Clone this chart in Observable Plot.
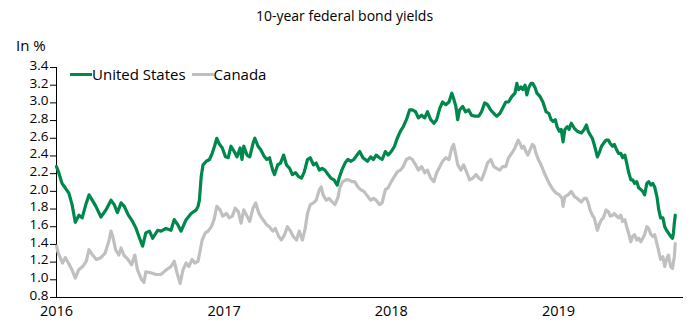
<!DOCTYPE html>
<html><head><meta charset="utf-8">
<script src="https://cdn.jsdelivr.net/npm/d3@7"></script>
<script src="https://cdn.jsdelivr.net/npm/@observablehq/plot@0.6"></script>
<style>
body{margin:0;background:#fff;font-family:"Open Sans",sans-serif;color:#000;}
#wrap{position:relative;width:689px;height:320px;overflow:hidden;}
#title{position:absolute;top:6px;left:0;width:689px;text-align:center;font-size:14px;}
#unit{position:absolute;top:35px;left:16px;font-size:15px;}
#legend{position:absolute;top:64px;left:70px;font-size:15px;display:flex;align-items:center;white-space:nowrap;}
#legend .sw{display:inline-block;width:22px;height:3px;}
#chart{position:absolute;top:0;left:0;}
</style></head><body>
<div id="wrap">
<div id="chart"></div>
<div id="title">10-year federal bond yields</div>
<div id="unit">In %</div>
<div id="legend"></div>
</div>
<script>
const seriesNames = ["United States", "Canada"];
const seriesColors = ["#00874b", "#c0c0c0"];
const yTicks = [0.8,1.0,1.2,1.4,1.6,1.8,2.0,2.2,2.4,2.6,2.8,3.0,3.2,3.4];
const xTicks = ["2016-01-01","2017-01-01","2018-01-01","2019-01-01"];
const xDomain = ["2016-01-01","2019-10-01"];

const usDates = ["2016-01-01","2016-01-06","2016-01-13","2016-01-20","2016-01-28","2016-02-04","2016-02-11","2016-02-19","2016-02-26","2016-03-05","2016-03-12","2016-03-19","2016-03-27","2016-04-07","2016-04-18","2016-04-29","2016-05-06","2016-05-13","2016-05-21","2016-05-28","2016-06-06","2016-06-15","2016-06-22","2016-06-29","2016-07-07","2016-07-14","2016-07-22","2016-07-29","2016-08-09","2016-08-16","2016-08-27","2016-09-07","2016-09-14","2016-09-22","2016-09-29","2016-10-10","2016-10-21","2016-11-01","2016-11-05","2016-11-08","2016-11-12","2016-11-16","2016-11-23","2016-11-30","2016-12-06","2016-12-11","2016-12-16","2016-12-21","2016-12-28",
"2017-01-04","2017-01-10","2017-01-16","2017-01-23","2017-01-29","2017-02-05","2017-02-09","2017-02-13","2017-02-20","2017-02-26","2017-03-05","2017-03-09","2017-03-16","2017-03-22","2017-03-29","2017-04-04","2017-04-10","2017-04-17","2017-04-21","2017-04-28","2017-05-04","2017-05-11","2017-05-17","2017-05-24","2017-05-30","2017-06-06","2017-06-12","2017-06-19","2017-06-25","2017-07-02","2017-07-08","2017-07-15","2017-07-21","2017-07-28","2017-08-03","2017-08-09","2017-08-16","2017-08-22","2017-08-29","2017-09-05","2017-09-09","2017-09-15","2017-09-22","2017-09-28","2017-10-05","2017-10-11","2017-10-18","2017-10-24","2017-10-31","2017-11-10","2017-11-17","2017-11-23","2017-11-29","2017-12-06","2017-12-12","2017-12-19","2017-12-25",
"2018-01-01","2018-01-08","2018-01-14","2018-01-21","2018-01-27","2018-02-03","2018-02-10","2018-02-16","2018-02-23","2018-03-01","2018-03-08","2018-03-15","2018-03-21","2018-03-28","2018-04-04","2018-04-10","2018-04-17","2018-04-23","2018-04-30","2018-05-07","2018-05-13","2018-05-17","2018-05-22","2018-05-26","2018-05-30","2018-06-06","2018-06-12","2018-06-19","2018-06-25","2018-07-02","2018-07-11","2018-07-17","2018-07-24","2018-07-30","2018-08-06","2018-08-13","2018-08-19","2018-08-26","2018-09-01","2018-09-08","2018-09-14","2018-09-21","2018-09-28","2018-10-02","2018-10-06","2018-10-11","2018-10-15","2018-10-20","2018-10-24","2018-10-28","2018-11-02","2018-11-06","2018-11-11","2018-11-15","2018-11-22","2018-11-28","2018-12-05","2018-12-11","2018-12-16","2018-12-20","2018-12-25","2018-12-29",
"2019-01-03","2019-01-07","2019-01-11","2019-01-15","2019-01-20","2019-01-24","2019-01-29","2019-02-05","2019-02-11","2019-02-20","2019-02-26","2019-03-03","2019-03-07","2019-03-11","2019-03-16","2019-03-20","2019-03-27","2019-04-01","2019-04-05","2019-04-09","2019-04-15","2019-04-20","2019-04-24","2019-04-29","2019-05-03","2019-05-08","2019-05-12","2019-05-17","2019-05-21","2019-05-26","2019-05-30","2019-06-03","2019-06-08","2019-06-12","2019-06-16","2019-06-21","2019-06-25","2019-06-30","2019-07-04","2019-07-08","2019-07-13","2019-07-17","2019-07-22","2019-07-26","2019-07-30","2019-08-04","2019-08-08","2019-08-12","2019-08-17","2019-08-21","2019-08-25","2019-08-29","2019-09-03","2019-09-07","2019-09-09","2019-09-11","2019-09-13"];
const usYield = [2.28,2.21,2.09,2.04,1.98,1.85,1.65,1.73,1.70,1.85,1.96,1.90,1.83,1.71,1.79,1.90,1.85,1.76,1.87,1.83,1.73,1.66,1.59,1.49,1.38,1.53,1.55,1.47,1.56,1.55,1.58,1.56,1.68,1.62,1.55,1.68,1.75,1.79,1.83,1.90,2.17,2.30,2.34,2.36,2.43,2.51,2.60,2.54,2.49,
2.39,2.38,2.51,2.45,2.39,2.49,2.36,2.51,2.41,2.39,2.54,2.60,2.51,2.47,2.40,2.36,2.38,2.24,2.19,2.30,2.32,2.41,2.30,2.26,2.19,2.21,2.17,2.15,2.22,2.36,2.38,2.30,2.32,2.24,2.26,2.24,2.19,2.15,2.13,2.07,2.15,2.24,2.32,2.36,2.34,2.36,2.41,2.45,2.38,2.34,2.39,2.36,2.41,2.38,2.36,2.45,2.41,
2.45,2.51,2.60,2.68,2.73,2.81,2.92,2.92,2.90,2.83,2.86,2.83,2.90,2.81,2.77,2.81,2.94,3.01,2.98,3.01,3.11,3.05,2.96,2.81,2.92,2.96,2.90,2.92,2.86,2.85,2.85,2.90,3.00,2.98,2.92,2.88,2.85,2.88,2.94,3.01,3.01,3.07,3.11,3.22,3.15,3.18,3.15,3.20,3.09,3.17,3.22,3.22,3.17,3.11,3.07,3.01,2.90,2.88,2.81,2.79,2.81,2.73,
2.68,2.70,2.56,2.70,2.73,2.70,2.77,2.71,2.68,2.66,2.70,2.75,2.68,2.64,2.60,2.53,2.39,2.45,2.51,2.54,2.58,2.58,2.54,2.51,2.53,2.47,2.43,2.43,2.38,2.41,2.32,2.22,2.13,2.13,2.09,2.11,2.04,2.02,2.00,1.96,2.09,2.11,2.07,2.09,2.05,1.94,1.79,1.70,1.70,1.60,1.56,1.53,1.49,1.47,1.53,1.64,1.73];

const caDates = ["2016-01-01","2016-01-05","2016-01-14","2016-01-20","2016-01-27","2016-02-04","2016-02-11","2016-02-18","2016-02-27","2016-03-06","2016-03-12","2016-03-20","2016-03-28","2016-04-07","2016-04-16","2016-04-25","2016-04-29","2016-05-03","2016-05-09","2016-05-16","2016-05-21","2016-05-27","2016-06-05","2016-06-13","2016-06-20","2016-06-26","2016-07-05","2016-07-10","2016-07-14","2016-07-25","2016-08-05","2016-08-16","2016-08-27","2016-09-07","2016-09-14","2016-09-20","2016-09-27","2016-10-03","2016-10-10","2016-10-16","2016-10-23","2016-10-29","2016-11-05","2016-11-10","2016-11-14","2016-11-21","2016-11-27","2016-12-04","2016-12-10","2016-12-16","2016-12-23","2016-12-29",
"2017-01-06","2017-01-12","2017-01-19","2017-01-25","2017-02-01","2017-02-07","2017-02-13","2017-02-20","2017-02-26","2017-03-05","2017-03-11","2017-03-18","2017-03-24","2017-03-31","2017-04-04","2017-04-10","2017-04-17","2017-04-23","2017-04-30","2017-05-06","2017-05-13","2017-05-19","2017-05-26","2017-06-01","2017-06-08","2017-06-14","2017-06-21","2017-06-27","2017-07-02","2017-07-08","2017-07-15","2017-07-21","2017-07-28","2017-08-01","2017-08-05","2017-08-12","2017-08-18","2017-08-25","2017-08-31","2017-09-07","2017-09-11","2017-09-17","2017-09-24","2017-09-30","2017-10-07","2017-10-13","2017-10-20","2017-10-26","2017-11-02","2017-11-08","2017-11-17","2017-11-23","2017-11-29","2017-12-06","2017-12-12","2017-12-19","2017-12-25",
"2018-01-01","2018-01-08","2018-01-14","2018-01-21","2018-01-27","2018-02-03","2018-02-10","2018-02-16","2018-02-23","2018-03-01","2018-03-08","2018-03-15","2018-03-21","2018-03-28","2018-04-04","2018-04-10","2018-04-17","2018-04-23","2018-04-30","2018-05-07","2018-05-13","2018-05-17","2018-05-22","2018-05-26","2018-06-02","2018-06-08","2018-06-15","2018-06-21","2018-06-28","2018-07-05","2018-07-11","2018-07-17","2018-07-24","2018-07-30","2018-08-06","2018-08-13","2018-08-19","2018-08-26","2018-09-01","2018-09-08","2018-09-14","2018-09-21","2018-09-28","2018-10-05","2018-10-09","2018-10-13","2018-10-17","2018-10-22","2018-10-26","2018-10-31","2018-11-05","2018-11-09","2018-11-13","2018-11-18","2018-11-24","2018-12-01","2018-12-08","2018-12-14","2018-12-20","2018-12-27",
"2019-01-03","2019-01-09","2019-01-11","2019-01-15","2019-01-22","2019-01-29","2019-02-05","2019-02-11","2019-02-20","2019-02-26","2019-03-03","2019-03-07","2019-03-11","2019-03-16","2019-03-20","2019-03-27","2019-04-01","2019-04-05","2019-04-09","2019-04-15","2019-04-20","2019-04-24","2019-04-29","2019-05-03","2019-05-08","2019-05-12","2019-05-17","2019-05-21","2019-05-26","2019-05-30","2019-06-03","2019-06-08","2019-06-12","2019-06-16","2019-06-21","2019-06-25","2019-06-30","2019-07-04","2019-07-08","2019-07-13","2019-07-17","2019-07-22","2019-07-26","2019-07-30","2019-08-04","2019-08-08","2019-08-12","2019-08-17","2019-08-21","2019-08-25","2019-08-29","2019-09-03","2019-09-07","2019-09-11","2019-09-13"];
const caYield = [1.38,1.30,1.19,1.25,1.19,1.11,1.02,1.11,1.15,1.21,1.34,1.28,1.23,1.25,1.30,1.45,1.55,1.49,1.34,1.28,1.36,1.28,1.23,1.17,1.28,1.11,1.00,0.97,1.09,1.08,1.06,1.06,1.11,1.15,1.21,1.08,0.96,1.11,1.19,1.15,1.23,1.19,1.21,1.34,1.45,1.53,1.55,1.60,1.68,1.83,1.79,1.72,
1.75,1.70,1.72,1.81,1.77,1.64,1.79,1.72,1.66,1.81,1.87,1.75,1.70,1.65,1.62,1.60,1.55,1.58,1.49,1.45,1.51,1.60,1.55,1.49,1.45,1.55,1.45,1.58,1.75,1.85,1.87,1.90,2.02,2.05,1.96,1.90,1.92,1.88,1.85,1.94,2.05,2.11,2.13,2.13,2.11,2.11,2.05,2.02,2.00,1.96,1.90,1.92,1.90,1.85,1.87,2.02,2.04,
2.11,2.17,2.22,2.24,2.28,2.36,2.38,2.36,2.30,2.24,2.28,2.21,2.24,2.15,2.11,2.21,2.28,2.34,2.38,2.36,2.49,2.53,2.41,2.30,2.24,2.30,2.21,2.13,2.15,2.19,2.15,2.13,2.22,2.32,2.36,2.28,2.26,2.24,2.28,2.28,2.38,2.43,2.49,2.58,2.54,2.49,2.51,2.45,2.41,2.47,2.53,2.51,2.43,2.36,2.30,2.21,2.13,2.07,2.02,1.98,
1.96,1.92,1.83,1.94,1.96,2.00,1.94,1.92,1.88,1.92,1.92,1.87,1.79,1.73,1.70,1.56,1.64,1.68,1.70,1.79,1.77,1.72,1.73,1.75,1.72,1.70,1.73,1.66,1.68,1.60,1.53,1.43,1.49,1.51,1.45,1.47,1.43,1.47,1.51,1.60,1.58,1.51,1.49,1.51,1.41,1.32,1.23,1.26,1.15,1.23,1.28,1.15,1.13,1.26,1.41];

const parse = d3.utcParse("%Y-%m-%d");
const us = usDates.map((d, i) => ({date: parse(d), value: usYield[i], series: seriesNames[0]}));
const ca = caDates.map((d, i) => ({date: parse(d), value: caYield[i], series: seriesNames[1]}));
const xd = xDomain.map(parse);

const chart = Plot.plot({
  width: 689, height: 320,
  marginLeft: 56, marginRight: 6, marginTop: 67, marginBottom: 23,
  style: {fontFamily: "'Open Sans', sans-serif", fontSize: "14px", color: "#000", background: "transparent", overflow: "visible"},
  x: {type: "utc", domain: xd},
  y: {domain: [yTicks[0], yTicks[yTicks.length - 1]]},
  marks: [
    Plot.axisY({ticks: yTicks, tickSize: 6, tickFormat: () => "", label: null, stroke: "#000", strokeOpacity: 1}),
    Plot.axisY({ticks: yTicks, tickSize: 0, tickPadding: 8, tickFormat: d3.format(".1f"), label: null, fontSize: 13.5, dy: -2}),
    Plot.axisX({ticks: xTicks.map(parse), tickFormat: d3.utcFormat("%Y"), tickSize: 0, tickPadding: 8, label: null, fontSize: 14.5}),
    Plot.ruleX([xd[0]], {y1: yTicks[0], y2: yTicks[yTicks.length - 1], stroke: "#000", strokeWidth: 1}),
    Plot.ruleY([yTicks[0]], {stroke: "#000", strokeWidth: 1}),
    Plot.lineY(ca, {x: "date", y: "value", stroke: seriesColors[1], strokeWidth: 3.2}),
    Plot.lineY(us, {x: "date", y: "value", stroke: seriesColors[0], strokeWidth: 3.2})
  ]
});
document.getElementById("chart").appendChild(chart);

const legend = document.getElementById("legend");
seriesNames.forEach((name, i) => {
  const item = document.createElement("span");
  item.style.display = "inline-flex";
  item.style.alignItems = "center";
  item.style.marginRight = i === 0 ? "6px" : "0";
  const sw = document.createElement("span");
  sw.className = "sw";
  sw.style.background = seriesColors[i];
  const label = document.createElement("span");
  label.textContent = name;
  item.appendChild(sw);
  item.appendChild(label);
  legend.appendChild(item);
});
</script>
</body></html>
